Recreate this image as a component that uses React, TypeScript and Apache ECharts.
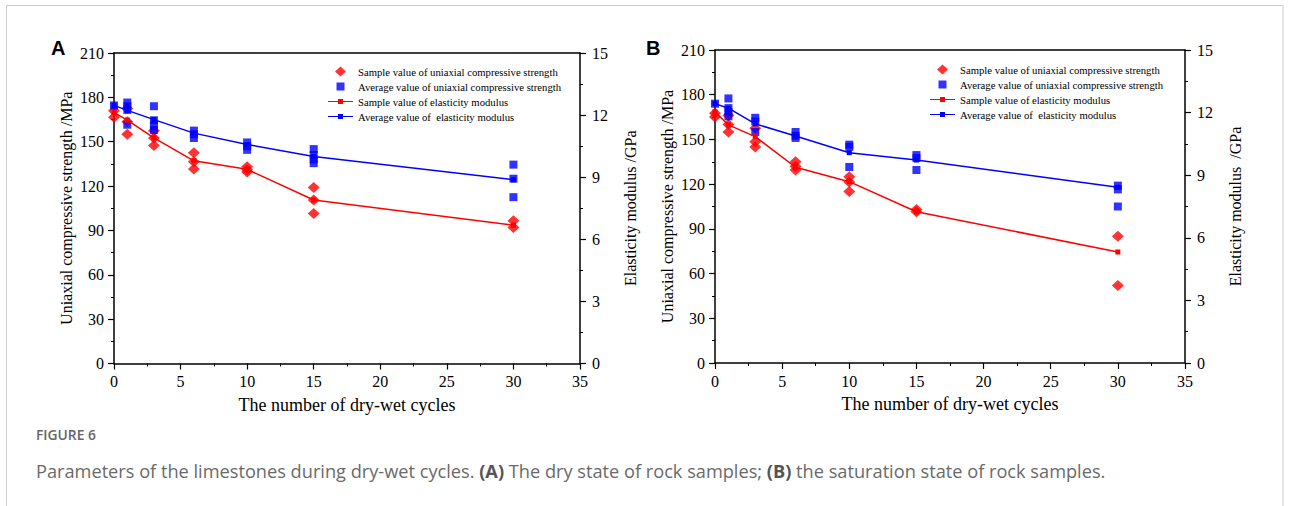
import React, { useEffect, useRef } from "react";
import * as echarts from "echarts";

// ---- data ----
const cycles = [0, 1, 3, 6, 10, 15, 30];

// Panel A (dry state)
const sampleUcsA = [
  [171, 166.5],
  [172.5, 163.5, 155],
  [157.5, 152.5, 147.5],
  [142.5, 136.5, 131.5],
  [133, 131, 129.5],
  [119, 110.5, 101.5],
  [96.5, 92],
];
const avgUcsA = [
  [174.5],
  [176.5, 174, 171.5, 161.5],
  [174, 164.5, 161, 158],
  [157.5, 155, 152.5],
  [149.5, 147, 144.5],
  [145, 141, 138, 135.5],
  [134.5, 125, 112.5],
];
const sampleEA = [12.12, 11.76, 10.9, 9.79, 9.38, 7.9, 6.68];
const avgEA = [12.47, 12.23, 11.78, 11.13, 10.58, 10.0, 8.88];

// Panel B (saturation state)
const sampleUcsB = [
  [167.5, 165],
  [166, 160, 155],
  [157.5, 148.5, 145],
  [135, 132, 129.5],
  [125, 121.5, 115],
  [103, 101.5],
  [85, 52],
];
const avgUcsB = [
  [174],
  [177.5, 171, 168.5, 165.5],
  [164.5, 162, 155],
  [155, 152.5, 151],
  [146.5, 145, 131.5],
  [139.5, 137.5, 129.5],
  [119, 116.5, 105],
];
const sampleEB = [12.04, 11.41, 10.85, 9.38, 8.69, 7.25, 5.32];
const avgEB = [12.43, 12.21, 11.46, 10.88, 10.08, 9.73, 8.42];

const seriesNames = [
  "Sample value of uniaxial compressive strength",
  "Average value of uniaxial compressive strength",
  "Sample value of elasticity modulus",
  "Average value of  elasticity modulus",
];

const xTitle = "The number of dry-wet cycles";
const yLeftTitle = "Uniaxial compressive strength /MPa";
const yRightTitleA = "Elasticity modulus /GPa";
const yRightTitleB = "Elasticity modulus  /GPa";

const captionTitle = "FIGURE 6";
const captionText =
  "Parameters of the limestones during dry-wet cycles. {b|(A)} The dry state of rock samples; {b|(B)} the saturation state of rock samples.";

// ---- helpers ----
const SERIF = "Liberation Serif";
const RED = "#ff0000";
const BLUE = "#0000ff";

const toPoints = (groups: number[][]) =>
  cycles.flatMap((c, i) => groups[i].map((v) => [c, v]));
const toLine = (vals: number[]) => cycles.map((c, i) => [c, vals[i]]);

const diamondIcon =
  "path://M0,0h0.01v0.01h-0.01z M7,5L12.5,0L18,5L12.5,10Z M24.99,9.99h0.01v0.01h-0.01z";
const squareIcon =
  "path://M0,0h0.01v0.01h-0.01z M8.5,1H16.5V9H8.5Z M24.99,9.99h0.01v0.01h-0.01z";
const lineIcon = "path://M0,4.4H25V5.6H0Z M10,2.5H15V7.5H10Z";

function axesFor(grid: number, rightName: string) {
  const axisLine = { show: true, onZero: false, lineStyle: { color: "#000", width: 1.5 } };
  const tick = { show: true, inside: false, length: 6, lineStyle: { color: "#000", width: 1.2 } };
  const minor = { show: true, splitNumber: 2, length: 3, lineStyle: { color: "#000", width: 1 } };
  const nameStyle = { color: "#000", fontFamily: SERIF };
  const xAxes = [
    {
      type: "value",
      gridIndex: grid,
      position: "bottom",
      min: 0,
      max: 35,
      interval: 5,
      axisLine,
      axisTick: tick,
      minorTick: minor,
      splitLine: { show: false },
      axisLabel: { color: "#000", fontSize: 16, fontFamily: SERIF, margin: 10 },
      name: xTitle,
      nameLocation: "middle",
      nameGap: 32,
      nameTextStyle: { ...nameStyle, fontSize: 18 },
    },
    {
      type: "value",
      gridIndex: grid,
      position: "top",
      min: 0,
      max: 35,
      axisLine,
      axisTick: { show: false },
      axisLabel: { show: false },
      splitLine: { show: false },
    },
  ];
  const yAxes = [
    {
      type: "value",
      gridIndex: grid,
      position: "left",
      min: 0,
      max: 210,
      interval: 30,
      axisLine,
      axisTick: tick,
      minorTick: minor,
      splitLine: { show: false },
      axisLabel: { color: "#000", fontSize: 16, fontFamily: SERIF, margin: 10 },
      name: yLeftTitle,
      nameLocation: "middle",
      nameGap: 40,
      nameTextStyle: { ...nameStyle, fontSize: 16 },
    },
    {
      type: "value",
      gridIndex: grid,
      position: "right",
      min: 0,
      max: 15,
      interval: 3,
      axisLine,
      axisTick: tick,
      minorTick: minor,
      splitLine: { show: false },
      axisLabel: { color: "#000", fontSize: 16, fontFamily: SERIF, margin: 12 },
      name: rightName,
      nameLocation: "middle",
      nameGap: 42,
      nameTextStyle: { ...nameStyle, fontSize: 16 },
    },
  ];
  return { xAxes, yAxes };
}

function seriesFor(
  grid: number,
  sUcs: number[][],
  aUcs: number[][],
  sE: number[],
  aE: number[]
) {
  const xi = grid * 2;
  const yi = grid * 2;
  return [
    {
      type: "scatter",
      name: seriesNames[0],
      xAxisIndex: xi,
      yAxisIndex: yi,
      symbol: "diamond",
      symbolSize: [12, 11],
      itemStyle: { color: RED },
      data: toPoints(sUcs),
      z: 3,
    },
    {
      type: "scatter",
      name: seriesNames[1],
      xAxisIndex: xi,
      yAxisIndex: yi,
      symbol: "rect",
      symbolSize: 8,
      itemStyle: { color: BLUE },
      data: toPoints(aUcs),
      z: 3,
    },
    {
      type: "line",
      name: seriesNames[2],
      xAxisIndex: xi,
      yAxisIndex: yi + 1,
      symbol: "rect",
      symbolSize: 5,
      showAllSymbol: true,
      itemStyle: { color: RED },
      lineStyle: { color: RED, width: 1.5 },
      data: toLine(sE),
      z: 4,
    },
    {
      type: "line",
      name: seriesNames[3],
      xAxisIndex: xi,
      yAxisIndex: yi + 1,
      symbol: "rect",
      symbolSize: 5,
      showAllSymbol: true,
      itemStyle: { color: BLUE },
      lineStyle: { color: BLUE, width: 1.5 },
      data: toLine(aE),
      z: 4,
    },
  ];
}

function legendFor(left: number, top: number) {
  return {
    orient: "vertical",
    left,
    top,
    itemWidth: 25,
    itemHeight: 10,
    itemGap: 4,
    selectedMode: false,
    padding: 0,
    textStyle: { color: "#000", fontSize: 10.7, fontFamily: SERIF },
    data: [
      { name: seriesNames[0], icon: diamondIcon },
      { name: seriesNames[1], icon: squareIcon },
      { name: seriesNames[2], icon: lineIcon },
      { name: seriesNames[3], icon: lineIcon },
    ],
  };
}

export default function App() {
  const ref = useRef<HTMLDivElement>(null);

  useEffect(() => {
    document.body.style.margin = "0";
    if (!ref.current) return;
    const chart = echarts.init(ref.current, undefined, { renderer: "svg" });
    const a = axesFor(0, yRightTitleA);
    const b = axesFor(1, yRightTitleB);
    chart.setOption({
      animation: false,
      backgroundColor: "#fff",
      grid: [
        { left: 114, top: 53, width: 466, height: 310.5, outerBoundsMode: "none", containLabel: false },
        { left: 715, top: 50, width: 470, height: 313, outerBoundsMode: "none", containLabel: false },
      ],
      xAxis: [...a.xAxes, ...b.xAxes],
      yAxis: [...a.yAxes, ...b.yAxes],
      legend: [legendFor(328, 66), legendFor(930, 64)],
      series: [
        ...seriesFor(0, sampleUcsA, avgUcsA, sampleEA, avgEA),
        ...seriesFor(1, sampleUcsB, avgUcsB, sampleEB, avgEB),
      ],
      graphic: [
        {
          type: "rect",
          shape: { x: 6.5, y: 5.5, width: 1276.5, height: 600 },
          style: { fill: "none", stroke: "#cccccc", lineWidth: 1 },
          silent: true,
        },
        {
          type: "text",
          x: 51,
          y: 48,
          style: {
            text: "A",
            font: "bold 20px Liberation Sans",
            fill: "#000",
            align: "left",
            verticalAlign: "middle",
          },
        },
        {
          type: "text",
          x: 646,
          y: 48,
          style: {
            text: "B",
            font: "bold 20px Liberation Sans",
            fill: "#000",
            align: "left",
            verticalAlign: "middle",
          },
        },
        {
          type: "text",
          x: 36,
          y: 434,
          style: {
            text: captionTitle,
            font: "600 13.8px Open Sans",
            fill: "#666666",
            align: "left",
            verticalAlign: "middle",
          },
        },
        {
          type: "text",
          x: 36,
          y: 471,
          style: {
            text: captionText,
            font: "18.2px Open Sans",
            fill: "#6a6a6a",
            align: "left",
            verticalAlign: "middle",
            rich: {
              b: {
                font: "bold 18.2px Open Sans",
                fill: "#555555",
              },
            },
          },
        },
      ],
    });
    return () => chart.dispose();
  }, []);

  return <div ref={ref} style={{ width: 1292, height: 506 }} />;
}
